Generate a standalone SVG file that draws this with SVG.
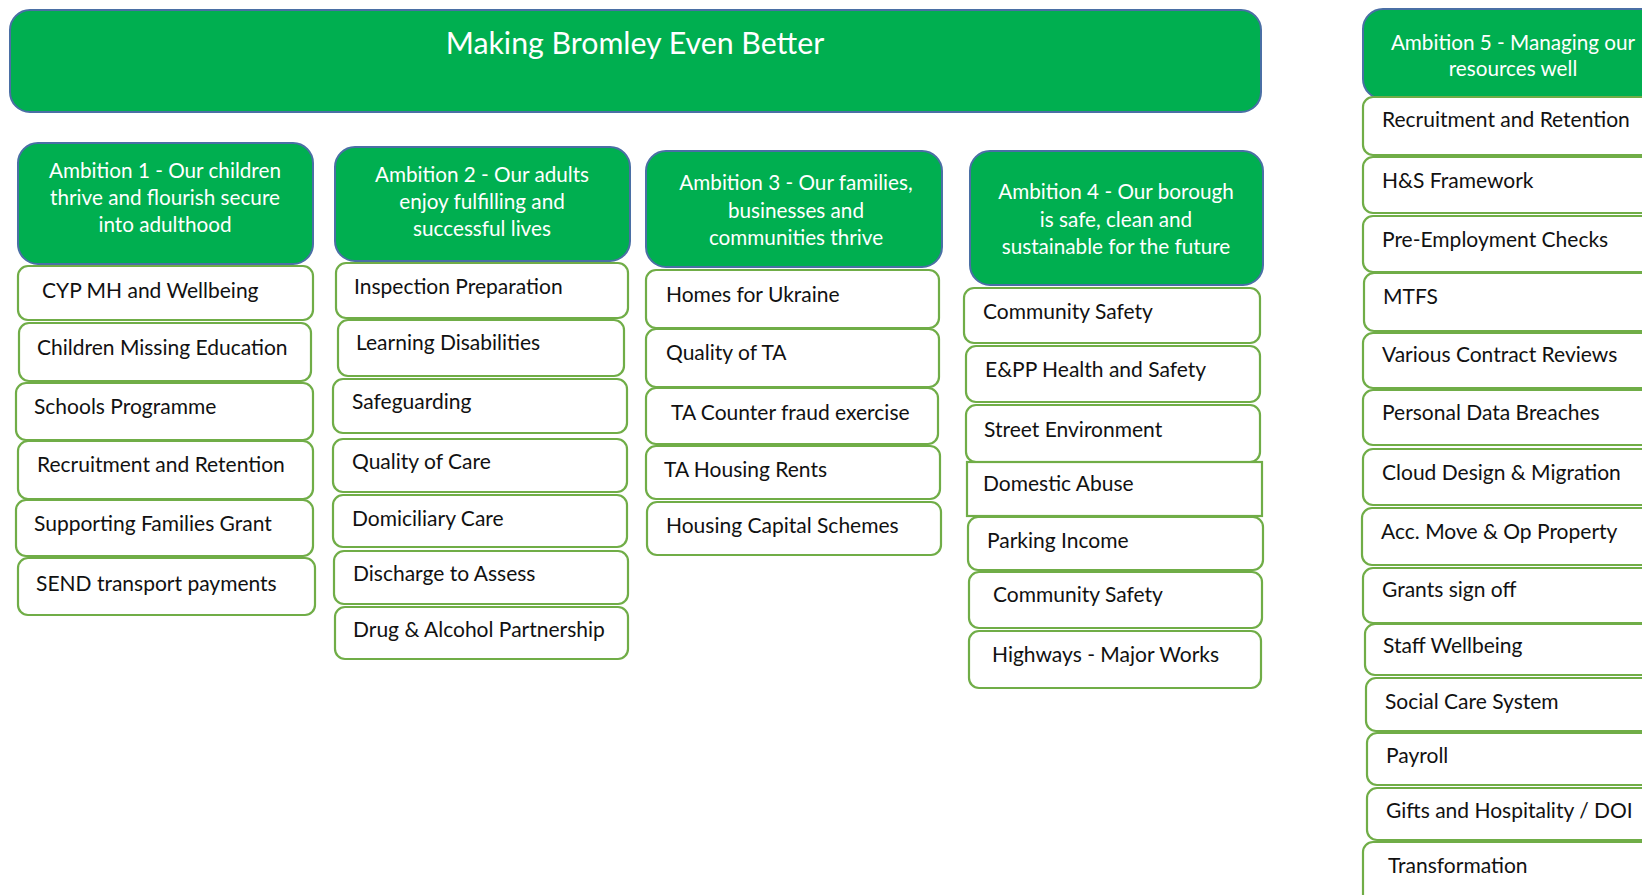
<svg xmlns="http://www.w3.org/2000/svg" width="1642" height="895" viewBox="0 0 1642 895">
  <style>
    .banner { fill: #00AF50; stroke: #4A6FA5; stroke-width: 2; }
    .amb { fill: #00AF50; stroke: #4A6FA5; stroke-width: 2; }
    .item { fill: #FFFFFF; stroke: #70AD47; stroke-width: 2.2; }
    .t-title { font-family: Lato, "Liberation Sans", sans-serif; font-size: 30.3px; fill: #FFFFFF; text-anchor: middle; }
    .t-amb { font-family: Lato, "Liberation Sans", sans-serif; font-size: 20.7px; fill: #FFFFFF; text-anchor: middle; }
    .t-item { font-family: Lato, "Liberation Sans", sans-serif; font-size: 21px; fill: #111111; }
  </style>
  <rect width="1642" height="895" fill="#FFFFFF"/>

  <!-- Top banner -->
  <g id="banner">
    <rect class="banner" x="10" y="10" width="1251" height="102" rx="20"/>
    <text class="t-title" x="635" y="54">Making Bromley Even Better</text>
  </g>

  <!-- Ambition 1 column -->
  <g id="ambition1">
    <rect class="amb" x="18" y="143" width="295" height="121" rx="20"/>
    <text class="t-amb" x="165" y="178">Ambition 1 - Our children</text>
    <text class="t-amb" x="165" y="205">thrive and flourish secure</text>
    <text class="t-amb" x="165" y="232">into adulthood</text>
  </g>
  <g id="a1-cyp"><rect class="item" x="18" y="266" width="295" height="54" rx="10"/><text class="t-item" x="42" y="298">CYP MH and Wellbeing</text></g>
  <g id="a1-cme"><rect class="item" x="19" y="323" width="292" height="58" rx="10"/><text class="t-item" x="37" y="355">Children Missing Education</text></g>
  <g id="a1-schools"><rect class="item" x="16" y="383" width="297" height="57" rx="10"/><text class="t-item" x="34" y="414">Schools Programme</text></g>
  <g id="a1-recruit"><rect class="item" x="18" y="441" width="295" height="58" rx="10"/><text class="t-item" x="37" y="472">Recruitment and Retention</text></g>
  <g id="a1-sfg"><rect class="item" x="16" y="500" width="297" height="56" rx="10"/><text class="t-item" x="34" y="531">Supporting Families Grant</text></g>
  <g id="a1-send"><rect class="item" x="18" y="558" width="297" height="57" rx="10"/><text class="t-item" x="36" y="591">SEND transport payments</text></g>

  <!-- Ambition 2 column -->
  <g id="ambition2">
    <rect class="amb" x="335" y="147" width="295" height="114" rx="20"/>
    <text class="t-amb" x="482" y="182">Ambition 2 - Our adults</text>
    <text class="t-amb" x="482" y="209">enjoy fulfilling and</text>
    <text class="t-amb" x="482" y="236">successful lives</text>
  </g>
  <g id="a2-insp"><rect class="item" x="336" y="263" width="292" height="55" rx="10"/><text class="t-item" x="354" y="294">Inspection Preparation</text></g>
  <g id="a2-ld"><rect class="item" x="338" y="320" width="286" height="56" rx="10"/><text class="t-item" x="356" y="350">Learning Disabilities</text></g>
  <g id="a2-safe"><rect class="item" x="333" y="379" width="294" height="54" rx="10"/><text class="t-item" x="352" y="409">Safeguarding</text></g>
  <g id="a2-qoc"><rect class="item" x="333" y="439" width="294" height="53" rx="10"/><text class="t-item" x="352" y="469">Quality of Care</text></g>
  <g id="a2-dom"><rect class="item" x="333" y="495" width="294" height="52" rx="10"/><text class="t-item" x="352" y="526">Domiciliary Care</text></g>
  <g id="a2-d2a"><rect class="item" x="334" y="551" width="294" height="53" rx="10"/><text class="t-item" x="353" y="581">Discharge to Assess</text></g>
  <g id="a2-drug"><rect class="item" x="335" y="607" width="293" height="52" rx="10"/><text class="t-item" x="353" y="637">Drug &amp; Alcohol Partnership</text></g>

  <!-- Ambition 3 column -->
  <g id="ambition3">
    <rect class="amb" x="646" y="151" width="296" height="116" rx="20"/>
    <text class="t-amb" x="796" y="190">Ambition 3 - Our families,</text>
    <text class="t-amb" x="796" y="218">businesses and</text>
    <text class="t-amb" x="796" y="245">communities thrive</text>
  </g>
  <g id="a3-ukr"><rect class="item" x="646" y="270" width="293" height="58" rx="10"/><text class="t-item" x="666" y="302">Homes for Ukraine</text></g>
  <g id="a3-qta"><rect class="item" x="646" y="329" width="293" height="58" rx="10"/><text class="t-item" x="666" y="360">Quality of TA</text></g>
  <g id="a3-fraud"><rect class="item" x="646" y="388" width="292" height="56" rx="10"/><text class="t-item" x="671" y="420">TA Counter fraud exercise</text></g>
  <g id="a3-rents"><rect class="item" x="646" y="446" width="294" height="53" rx="10"/><text class="t-item" x="664" y="477">TA Housing Rents</text></g>
  <g id="a3-cap"><rect class="item" x="647" y="502" width="294" height="53" rx="10"/><text class="t-item" x="666" y="533">Housing Capital Schemes</text></g>

  <!-- Ambition 4 column -->
  <g id="ambition4">
    <rect class="amb" x="970" y="151" width="293" height="134" rx="20"/>
    <text class="t-amb" x="1116" y="199">Ambition 4 - Our borough</text>
    <text class="t-amb" x="1116" y="227">is safe, clean and</text>
    <text class="t-amb" x="1116" y="254">sustainable for the future</text>
  </g>
  <g id="a4-cs1"><rect class="item" x="964" y="288" width="296" height="55" rx="10"/><text class="t-item" x="983" y="319">Community Safety</text></g>
  <g id="a4-epp"><rect class="item" x="966" y="346" width="294" height="56" rx="10"/><text class="t-item" x="985" y="377">E&amp;PP Health and Safety</text></g>
  <g id="a4-street"><rect class="item" x="966" y="405" width="294" height="57" rx="10"/><text class="t-item" x="984" y="437">Street Environment</text></g>
  <g id="a4-da"><rect class="item" x="967" y="462" width="295" height="54"/><text class="t-item" x="983" y="491">Domestic Abuse</text></g>
  <g id="a4-park"><rect class="item" x="968" y="517" width="295" height="53" rx="10"/><text class="t-item" x="987" y="548">Parking Income</text></g>
  <g id="a4-cs2"><rect class="item" x="969" y="572" width="293" height="56" rx="10"/><text class="t-item" x="993" y="602">Community Safety</text></g>
  <g id="a4-hw"><rect class="item" x="969" y="631" width="292" height="57" rx="10"/><text class="t-item" x="992" y="662">Highways - Major Works</text></g>

  <!-- Ambition 5 column (runs past the right edge) -->
  <g id="ambition5">
    <rect class="amb" x="1363" y="9" width="300" height="90" rx="20"/>
    <text class="t-amb" x="1513" y="50">Ambition 5 - Managing our</text>
    <text class="t-amb" x="1513" y="76">resources well</text>
  </g>
  <g id="a5-recruit"><rect class="item" x="1363" y="97" width="300" height="58" rx="10"/><text class="t-item" x="1382" y="127">Recruitment and Retention</text></g>
  <g id="a5-hs"><rect class="item" x="1363" y="157" width="300" height="56" rx="10"/><text class="t-item" x="1382" y="188">H&amp;S Framework</text></g>
  <g id="a5-pre"><rect class="item" x="1363" y="216" width="300" height="56" rx="10"/><text class="t-item" x="1382" y="247">Pre-Employment Checks</text></g>
  <g id="a5-mtfs"><rect class="item" x="1364" y="273" width="300" height="58" rx="10"/><text class="t-item" x="1383" y="304">MTFS</text></g>
  <g id="a5-contract"><rect class="item" x="1363" y="333" width="300" height="55" rx="10"/><text class="t-item" x="1382" y="362">Various Contract Reviews</text></g>
  <g id="a5-pdb"><rect class="item" x="1363" y="390" width="300" height="55" rx="10"/><text class="t-item" x="1382" y="420">Personal Data Breaches</text></g>
  <g id="a5-cloud"><rect class="item" x="1363" y="449" width="300" height="56" rx="10"/><text class="t-item" x="1382" y="480">Cloud Design &amp; Migration</text></g>
  <g id="a5-acc"><rect class="item" x="1362" y="508" width="300" height="57" rx="10"/><text class="t-item" x="1381" y="539">Acc. Move &amp; Op Property</text></g>
  <g id="a5-grants"><rect class="item" x="1363" y="568" width="300" height="55" rx="10"/><text class="t-item" x="1382" y="597">Grants sign off</text></g>
  <g id="a5-staff"><rect class="item" x="1365" y="624" width="300" height="51" rx="10"/><text class="t-item" x="1383" y="653">Staff Wellbeing</text></g>
  <g id="a5-social"><rect class="item" x="1366" y="678" width="300" height="53" rx="10"/><text class="t-item" x="1385" y="709">Social Care System</text></g>
  <g id="a5-payroll"><rect class="item" x="1367" y="733" width="300" height="52" rx="10"/><text class="t-item" x="1386" y="763">Payroll</text></g>
  <g id="a5-gifts"><rect class="item" x="1367" y="788" width="300" height="52" rx="10"/><text class="t-item" x="1386" y="818">Gifts and Hospitality / DOI</text></g>
  <g id="a5-trans"><rect class="item" x="1363" y="842" width="300" height="70" rx="10"/><text class="t-item" x="1388" y="873">Transformation</text></g>

  <!-- No connectors are drawn between the boxes -->
  <g id="connectors"/>
</svg>
